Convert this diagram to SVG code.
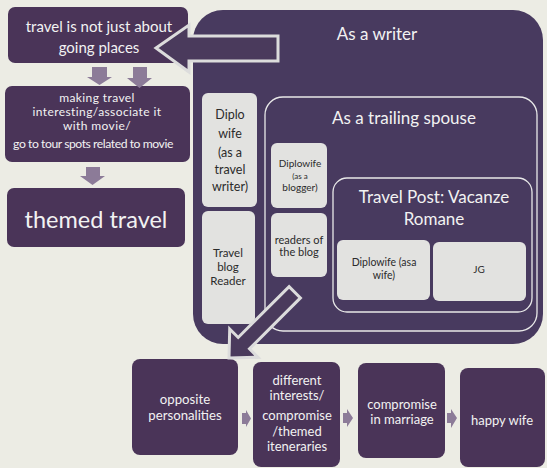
<svg xmlns="http://www.w3.org/2000/svg" width="547" height="468" viewBox="0 0 547 468">
<style>
.dark{fill:#4a3458;}
.writer{fill:#483a5f;}
.light{fill:#e2e2e0;}
.outline{fill:none;stroke:#e8e8e8;stroke-width:1.3;}
.arr{fill:#8c7b98;}
.hollow{fill:#4a3a5c;stroke:#dcdcdc;stroke-width:3;stroke-linejoin:miter;}
text{font-family:Lato,"Open Sans","Liberation Sans",sans-serif;text-anchor:middle;}
.wt{fill:#f2f2f2;}
.bt{fill:#2b2b2b;}
</style>
<rect width="547" height="468" fill="#ecece4"/>

<g id="writer">
<rect class="writer" x="193" y="10" width="350" height="334" rx="30"/>
<text class="wt" x="377" y="40" font-size="17">As a writer</text>
</g>

<g id="diplo-wife-writer">
<rect class="light" x="202" y="93" width="55" height="114" rx="6"/>
<text class="bt" font-size="12.5"><tspan x="230" y="119">Diplo</tspan><tspan x="230" y="138">wife</tspan><tspan x="230" y="157">(as a</tspan><tspan x="230" y="174">travel</tspan><tspan x="230" y="191">writer)</tspan></text>
</g>

<g id="travel-blog-reader">
<rect class="light" x="202" y="211" width="53" height="113" rx="6"/>
<text class="bt" font-size="11.5"><tspan x="228" y="257">Travel</tspan><tspan x="228" y="271">blog</tspan><tspan x="228" y="285">Reader</tspan></text>
</g>

<g id="trailing-spouse">
<rect class="outline" x="265" y="97" width="272" height="234" rx="18"/>
<text class="wt" x="404" y="124" font-size="17">As a trailing spouse</text>
</g>

<g id="diplowife-blogger">
<rect class="light" x="271" y="143" width="56" height="65" rx="6"/>
<text class="bt" font-size="10"><tspan x="300" y="167">Diplowife</tspan><tspan x="300" y="179" font-size="8">(as a</tspan><tspan x="300" y="191">blogger)</tspan></text>
</g>

<g id="readers-blog">
<rect class="light" x="271" y="213" width="56" height="64" rx="6"/>
<text class="bt" font-size="11"><tspan x="299" y="244">readers of</tspan><tspan x="299" y="256">the blog</tspan></text>
</g>

<g id="travel-post">
<rect class="outline" x="333" y="178" width="199" height="134" rx="14"/>
<text class="wt" font-size="17"><tspan x="434" y="203">Travel Post: Vacanze</tspan><tspan x="434" y="225">Romane</tspan></text>
</g>

<g id="diplowife-wife">
<rect class="light" x="337" y="240" width="93" height="60" rx="6"/>
<text class="bt" font-size="10.5"><tspan x="384" y="266">Diplowife (asa</tspan><tspan x="384" y="279">wife)</tspan></text>
</g>

<g id="jg">
<rect class="light" x="433" y="242" width="93" height="59" rx="6"/>
<text class="bt" x="479" y="273" font-size="10">JG</text>
</g>

<g id="not-just-places">
<rect class="dark" x="8" y="7" width="180" height="56" rx="7"/>
<text class="wt" font-size="15"><tspan x="99" y="32">travel is not just about</tspan><tspan x="99" y="53">going places</tspan></text>
</g>

<g id="making-interesting">
<rect class="dark" x="5" y="86" width="185" height="76" rx="7"/>
<text class="wt" font-size="12" letter-spacing="0.4"><tspan x="97" y="102">making travel</tspan><tspan x="97" y="116">interesting/associate it</tspan><tspan x="97" y="130">with movie/</tspan><tspan x="93" y="148" font-size="12.2" letter-spacing="-0.45">go to tour spots related to movie</tspan></text>
</g>

<g id="themed-travel">
<rect class="dark" x="7" y="188" width="178" height="59" rx="7"/>
<text class="wt" x="96" y="228" font-size="23.5">themed travel</text>
</g>

<g id="opposite">
<rect class="dark" x="132" y="359" width="106" height="96" rx="8"/>
<text class="wt" font-size="13.2"><tspan x="185" y="404">opposite</tspan><tspan x="185" y="420">personalities</tspan></text>
</g>

<g id="different">
<rect class="dark" x="253" y="362" width="87" height="105" rx="8"/>
<text class="wt" font-size="13"><tspan x="297" y="385">different</tspan><tspan x="297" y="400">interests/</tspan><tspan x="297" y="420">compromise</tspan><tspan x="297" y="436">/themed</tspan><tspan x="297" y="451">iteneraries</tspan></text>
</g>

<g id="compromise">
<rect class="dark" x="358" y="363" width="87" height="95" rx="8"/>
<text class="wt" font-size="13"><tspan x="402" y="409">compromise</tspan><tspan x="402" y="424">in marriage</tspan></text>
</g>

<g id="happy-wife">
<rect class="dark" x="460" y="368" width="85" height="99" rx="8"/>
<text class="wt" x="502" y="425" font-size="13">happy wife</text>
</g>

<g id="connectors">
<polygon class="arr" points="92,67 107,67 107,77 112,77 99.5,85 87,77 92,77"/>
<polygon class="arr" points="133,67 147,67 147,78 152,78 139.5,88 127,78 133,78"/>
<polygon class="arr" points="86,167 100,167 100,176 105,176 92.5,185 80,176 86,176"/>
<polygon class="arr" points="242,413 246,413 246,410 251,418.5 246,427 246,424 242,424"/>
<polygon class="arr" points="343,413 347,413 347,409 353,418 347,427 347,423 343,423"/>
<polygon class="arr" points="447,413 451,413 451,409 457,418 451,428 451,423 447,423"/>
<polygon class="hollow" points="156,48 189,25 189,36 278,36 278,61 189,61 189,72"/>
<polygon class="hollow" transform="translate(229,358) rotate(135)" points="0,0 -21,-20 -21,-8 -93,-8 -93,8 -21,8 -21,20"/>
</g>
</svg>
